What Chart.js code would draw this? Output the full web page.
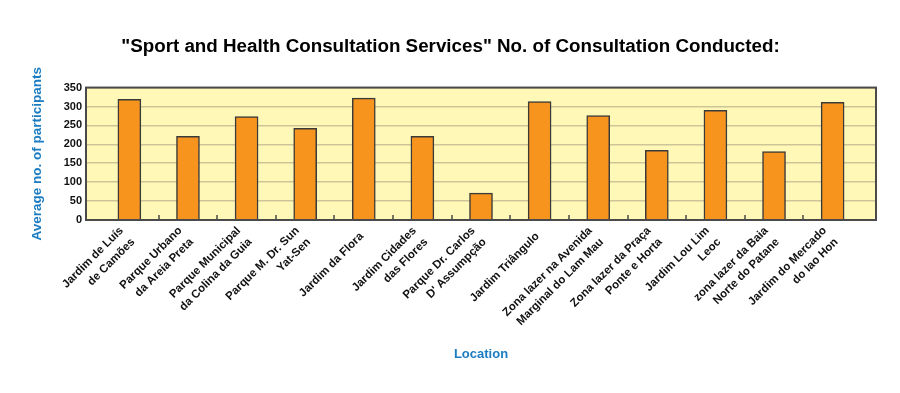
<!DOCTYPE html>
<html>
<head>
<meta charset="utf-8">
<script src="https://cdn.jsdelivr.net/npm/chart.js@4.4.0/dist/chart.umd.min.js"></script>
<style>
  html, body { margin: 0; padding: 0; background: #fff; }
  #wrap { width: 900px; height: 393px; }
</style>
</head>
<body>
<div id="wrap"><canvas id="consultChart"></canvas></div>
<script>
// DATA
const locations = [
  ['Jardim de Luís', 'de Camões'],
  ['Parque Urbano', 'da Areia Preta'],
  ['Parque Municipal', 'da Colina da Guia'],
  ['Parque M. Dr. Sun', 'Yat-Sen'],
  ['Jardim da Flora'],
  ['Jardim Cidades', 'das Flores'],
  ['Parque Dr. Carlos', "D' Assumpção"],
  ['Jardim Triângulo'],
  ['Zona lazer na Avenida', 'Marginal do Lam Mau'],
  ['Zona lazer da Praça', 'Ponte e Horta'],
  ['Jardim Lou Lim', 'Leoc'],
  ['zona lazer da Baia', 'Norte do Patane'],
  ['Jardim do Mercado', 'do Iao Hon']
];
const participants = [319, 221, 273, 242, 322, 221, 71, 313, 276, 184, 290, 181, 311];
const yTicks = [0, 50, 100, 150, 200, 250, 300, 350];

const FONT = "'Liberation Sans', Arial, sans-serif";
const BLUE = '#1c7cc2';

/* yellow plot background + frame + little inner ticks between bars */
const plotFrame = {
  id: 'plotFrame',
  beforeDraw(chart) {
    const { ctx, chartArea: a } = chart;
    ctx.save();
    ctx.fillStyle = '#fff8b6';
    ctx.fillRect(a.left, a.top, a.right - a.left, a.bottom - a.top);
    ctx.restore();

    // centre the multi-line rotated labels on their tick (like the original)
    const items = chart.scales.x.getLabelItems(a);
    items.forEach(it => {
      if (it._shifted) return;
      const n = Array.isArray(it.label) ? it.label.length : 1;
      it.textOffset -= (n - 1) * it.font.lineHeight / 2 + 3;
      it._shifted = true;
    });
  },
  afterDatasetsDraw(chart) {
    const { ctx, chartArea: a, scales } = chart;
    ctx.save();
    ctx.strokeStyle = '#4a4a4a';
    ctx.lineWidth = 2;
    ctx.strokeRect(a.left, a.top, a.right - a.left, a.bottom - a.top);
    ctx.lineWidth = 1.5;
    ctx.beginPath();
    for (let i = 0; i < locations.length - 1; i++) {
      const x = Math.round(scales.x.getPixelForValue(i + 0.5));
      ctx.moveTo(x, a.bottom);
      ctx.lineTo(x, a.bottom - 5);
    }
    ctx.stroke();
    ctx.restore();
  }
};

const config = {
  type: 'bar',
  data: {
    datasets: [{
      label: 'No. of Consultation',
      data: participants.map((v, i) => ({ x: i, y: v })),
      backgroundColor: '#f7941d',
      borderColor: '#3a3a3a',
      borderWidth: 1.5,
      barThickness: 23
    }]
  },
  options: {
    responsive: true,
    maintainAspectRatio: false,
    animation: false,
    layout: { padding: { left: 25, right: 24, top: 0, bottom: 27 } },
    scales: {
      x: {
        type: 'linear',
        offset: false,
        min: -0.74,
        max: 12.74,
        afterBuildTicks: (scale) => {
          scale.ticks = locations.map((_, i) => ({ value: i }));
        },
        afterFit: (scale) => {
          scale.height = 146;
          scale.paddingLeft = 0;
          scale.paddingRight = 0;
        },
        grid: { display: false },
        border: { display: false },
        ticks: {
          autoSkip: false,
          maxRotation: 45,
          minRotation: 45,
          padding: 3,
          color: '#111',
          font: { family: FONT, size: 11.5, weight: 'bold', lineHeight: 1.4 },
          callback: (v) => locations[v]
        },
        title: {
          display: true,
          text: 'Location',
          color: BLUE,
          font: { family: FONT, size: 13, weight: 'bold' }
        }
      },
      y: {
        min: 0,
        max: 350,
        afterBuildTicks: (scale) => {
          scale.ticks = yTicks.map(v => ({ value: v }));
        },
        afterFit: (scale) => { scale.width = 61; },
        grid: { color: '#cdc597', lineWidth: 1.5, drawTicks: false },
        border: { display: false },
        ticks: {
          padding: 4,
          color: '#111',
          font: { family: FONT, size: 11, weight: 'bold' }
        },
        title: {
          display: true,
          text: 'Average no. of participants',
          color: BLUE,
          font: { family: FONT, size: 13.5, weight: 'bold' }
        }
      }
    },
    plugins: {
      legend: { display: false },
      tooltip: { enabled: false },
      title: {
        display: true,
        text: '"Sport and Health Consultation Services" No. of Consultation Conducted:',
        color: '#000',
        font: { family: FONT, size: 18.8, weight: 'bold' },
        padding: { top: 36, bottom: 29 }
      }
    }
  },
  plugins: [plotFrame]
};

const consultChart = new Chart(document.getElementById('consultChart'), config);
</script>
</body>
</html>
